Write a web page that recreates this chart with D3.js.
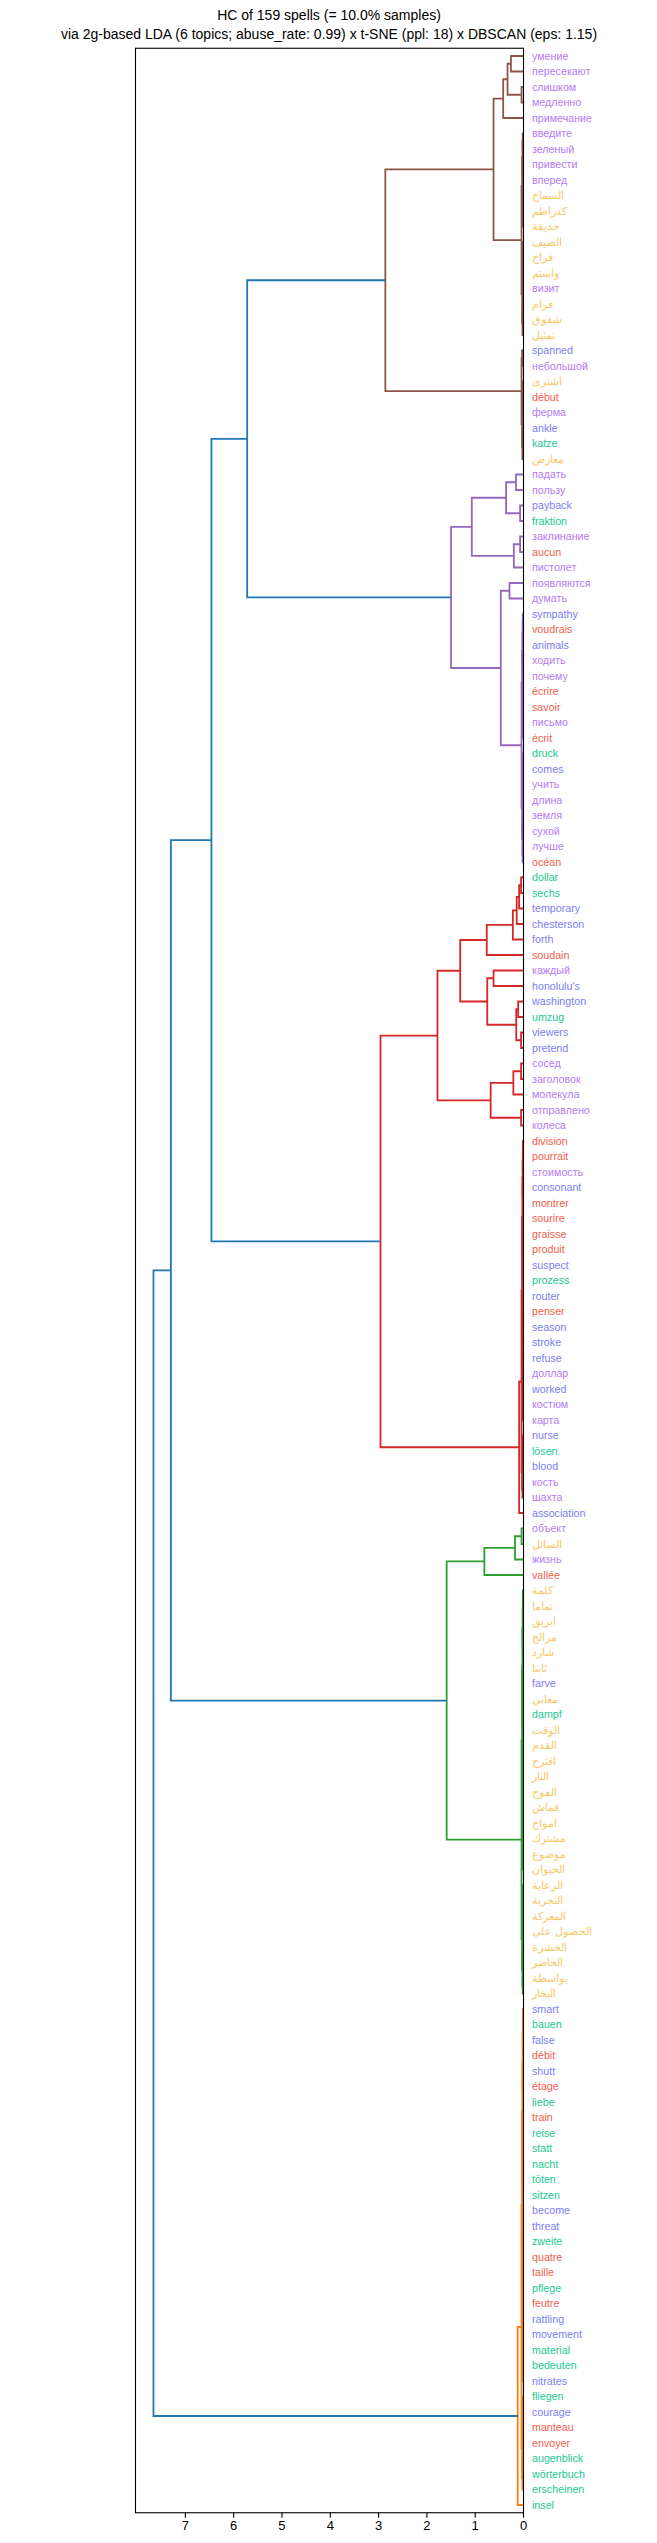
<!DOCTYPE html>
<html><head><meta charset="utf-8">
<script src="https://cdn.jsdelivr.net/npm/d3@7"></script>
<style>body{margin:0;background:#fff;} text{font-family:"Liberation Sans",Arial,sans-serif;}</style>
</head><body><svg id="c" width="657" height="2543"></svg>
<script>
const titleLines = ["HC of 159 spells (= 10.0% samples)",
  "via 2g-based LDA (6 topics; abuse_rate: 0.99) x t-SNE (ppl: 18) x DBSCAN (eps: 1.15)"];

const leafLabels = ["умение","пересекают","слишком","медленно","примечание","введите","зеленый","привести","вперед",
"السماح","كدراطم","حديقة","الصيف","فراج","واستم","визит","فرام","شقوق","تمثيل",
"spanned","небольшой","اشترى","début","ферма","ankle","katze","معارض",
"падать","пользу","payback","fraktion","заклинание","aucun","пистолет","появляются","думать",
"sympathy","voudrais","animals","ходить","почему","écrire","savoir","письмо","écrit","druck","comes",
"учить","длина","земля","сухой","лучше","océan",
"dollar","sechs","temporary","chesterson","forth","soudain","каждый","honolulu's","washington","umzug",
"viewers","pretend","сосед","заголовок","молекула","отправлено","колеса","division","pourrait","стоимость",
"consonant","montrer","sourire","graisse","produit","suspect","prozess","router","penser","season","stroke",
"refuse","доллар","worked","костюм","карта","nurse","lösen","blood","кость","шахта","association",
"объект","السائل","жизнь","vallée","كلمة","تماما","ابريق","مزالج","شارد","ثابتا","farve","معاني","dampf",
"الوقت","القدم","اقترح","النار","الفوج","قماش","امواج","مشترك","موضوع","الحيوان","الرعاية","التجربة",
"المعركة","الحصول على","الحشرة","الحاضر","بواسطة","البخار",
"smart","bauen","false","débit","shutt","étage","liebe","train","reise","statt","nacht","töten","sitzen",
"become","threat","zweite","quatre","taille","pflege","feutre","rattling","movement","material","bedeuten",
"nitrates","fliegen","courage","manteau","envoyer","augenblick","wörterbuch","erscheinen","insel"];

const leafLangs = [
"ru","ru","ru","ru","ru","ru","ru","ru","ru",
"ar","ar","ar","ar","ar","ar","ru","ar","ar","ar",
"en","ru","ar","fr","ru","en","de","ar",
"ru","ru","en","de","ru","fr","ru","ru","ru",
"en","fr","en","ru","ru","fr","fr","ru","fr","de","en",
"ru","ru","ru","ru","ru","fr",
"de","de","en","en","en","fr","ru","en","en","de",
"en","en","ru","ru","ru","ru","ru","fr","fr","ru",
"en","fr","fr","fr","fr","en","de","en","fr","en","en",
"en","ru","en","ru","ru","en","de","en","ru","ru","en",
"ru","ar","ru","fr","ar","ar","ar","ar","ar","ar","en","ar","de",
"ar","ar","ar","ar","ar","ar","ar","ar","ar","ar","ar","ar",
"ar","ar","ar","ar","ar","ar",
"en","de","en","fr","en","fr","de","fr","de","de","de","de","de",
"en","en","de","fr","fr","de","fr","en","en","de","de",
"en","de","en","fr","fr","de","de","de","de"];

const langCodes  = ["ru","en","fr","de","ar"];
const langColors = ["#b47cf4","#7c7ef4","#f2604c","#22c992","#f7c866"];

// cluster subtrees: "(a,b):height", leaves are leaf indices
const brownTree  = "(((((0,1):0.25,(2,3):0.03):0.32,4):0.41,(5,6,7,8,9,10,11,12,13,14,15,16,17,18):0.03):0.61,((19,20):0.02,(21,22,23,24,25,26):0.02):0.03):2.85";
const purpleTree = "((((27,28):0.145,(29,30):0.06):0.35,((31,32):0.06,33):0.19):1.06,((34,35):0.28,((36,37,38,39,40,41,42,43,44):0.02,(45,46,47,48,49,50,51,52):0.02):0.03):0.46):1.49";
const redTree    = "((((((((53,54):0.04,55):0.08,56):0.13,57):0.21,58):0.75,((59,60):0.61,((61,62):0.1,(63,64):0.04):0.14):0.74):1.30,(((65,66):0.04,67):0.2,(68,69):0.04):0.67):1.77,(((70,71,72,73,74,75,76,77,78,79,80,81,82,83,84,85,86,87,88):0.02,(89,90,91,92,93):0.02):0.03,94):0.08):2.95";
const greenTree  = "((((95,96):0.03,97):0.165,98):0.8,((99,100,101,102,103,104,105,106,107,108,109,110,111,112,113,114,115,116,117):0.02,(118,119,120,121,122,123,124,125):0.02):0.03):1.58";
const orangeTree = "(((126,127,128,129,130,131,132,133,134,135,136,137,138,139,140,141,142,143,144,145,146,147,148,149,150):0.02,(151,152,153,154,155,156,157):0.02):0.03,158):0.11";
const upperHeights = [5.71, 6.45, 7.29, 7.65];
const clusterColors = ["#8c564b","#9467bd","#d62728","#2ca02c","#ff7f0e"];
const aboveColor = "#1f77b4";
const xTicks = [7,6,5,4,3,2,1,0];

const treeString = `((((${brownTree},${purpleTree}):${upperHeights[0]},${redTree}):${upperHeights[1]},${greenTree}):${upperHeights[2]},${orangeTree}):${upperHeights[3]}`;

function parse(s){
  s = s.replace(/\s+/g,"");
  let i = 0;
  function binarize(kids, h){
    if (kids.length === 1) return kids[0];
    if (kids.length === 2) return {h, children: kids};
    const mid = Math.ceil(kids.length/2);
    return {h, children: [binarize(kids.slice(0,mid), h*0.6), binarize(kids.slice(mid), h*0.6)]};
  }
  function node(){
    if (s[i] === "("){
      i++;
      const kids = [node()];
      while (s[i] === ","){ i++; kids.push(node()); }
      i++;
      let h = 0;
      if (s[i] === ":"){ i++; const j = i; while (i < s.length && /[0-9.]/.test(s[i])) i++; h = +s.slice(j,i); }
      return binarize(kids, h);
    }
    const j = i; while (/[0-9]/.test(s[i])) i++;
    return {leaf: +s.slice(j,i), h: 0};
  }
  return node();
}

const root = parse(treeString);
const N = leafLabels.length;

let order = 0;
const leaves = [], internals = [];
(function layout(n){
  if (n.leaf !== undefined){ n.y = order*10 + 5; order++; leaves.push(n); return; }
  n.children.forEach(layout);
  n.y = d3.mean(n.children, c => c.y);
  internals.push(n);
})(root);

const threshold = 0.7 * root.h;
let ci = 0;
(function assign(n, color){
  if (!n.children) return;
  if (n.h >= threshold){ n.color = aboveColor; n.children.forEach(c => assign(c, null)); }
  else { if (!color) color = clusterColors[ci++]; n.color = color; n.children.forEach(c => assign(c, color)); }
})(root, null);

const L = 135, R = 523, T = 48.25, B = 2512.75;
const x = d3.scaleLinear().domain([root.h*1.05, 0]).range([L, R]);
const y = d3.scaleLinear().domain([0, N*10]).range([T, B]);
const svg = d3.select("#c");

svg.selectAll("text.title").data(titleLines).join("text")
  .attr("class","title").attr("x", (L+R)/2).attr("y",(d,i)=>20+i*19)
  .attr("text-anchor","middle").attr("font-size","14px").attr("fill","#000").text(d=>d);

svg.append("g").selectAll("path").data(internals).join("path")
  .attr("fill","none").attr("stroke",d=>d.color).attr("stroke-width",1.8)
  .attr("d", n => {
    const [a,b] = n.children;
    return `M${x(a.h)},${y(a.y)}H${x(n.h)}V${y(b.y)}H${x(b.h)}`;
  });

svg.append("rect").attr("x",L+0.5).attr("y",T).attr("width",R-L).attr("height",B-T)
  .attr("fill","none").attr("stroke","#000").attr("stroke-width",1.1);

const ax = svg.append("g").attr("transform",`translate(0,${B})`)
  .call(d3.axisBottom(x).tickValues(xTicks).tickFormat(d3.format("d")).tickSize(5).tickPadding(3.5));
ax.select(".domain").remove();
ax.selectAll("line").attr("stroke","#000").attr("stroke-width",1.1);
ax.selectAll("text").attr("font-size","13px").attr("fill","#000").attr("font-family",'"Liberation Sans",Arial,sans-serif');

svg.append("g").selectAll("text").data(leaves).join("text")
  .attr("x", 532).attr("y", d => y(d.y)).attr("dy","0.35em")
  .attr("font-size","10.7px")
  .attr("fill", d => langColors[langCodes.indexOf(leafLangs[d.leaf])])
  .text(d => leafLabels[d.leaf]);
</script></body></html>
